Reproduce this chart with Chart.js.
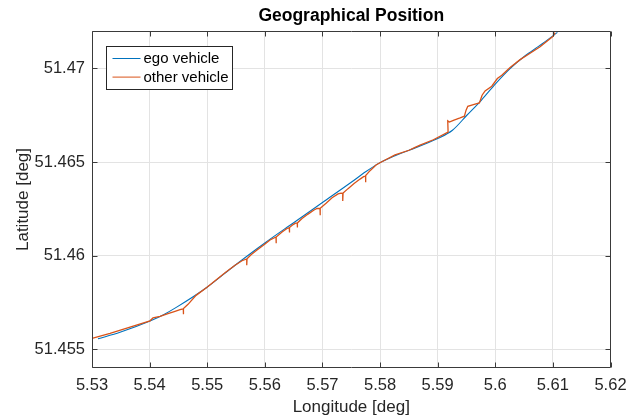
<!DOCTYPE html>
<html>
<head>
<meta charset="utf-8">
<script src="https://cdn.jsdelivr.net/npm/chart.js@4/dist/chart.umd.min.js"></script>
<style>
  html, body { margin: 0; padding: 0; background: #fff; }
  #geoChart { display: block; }
</style>
</head>
<body>
<canvas id="geoChart" width="638" height="420"></canvas>
<script>
// ego vehicle track
const egoLon = [5.53104, 5.53486, 5.54007, 5.54250, 5.54470, 5.54991, 5.55483, 5.56000, 5.56500, 5.57000,
  5.57500, 5.57750, 5.58000, 5.58250, 5.58503, 5.59000, 5.59257, 5.59507, 5.59757, 5.60007,
  5.60257, 5.60507, 5.60757, 5.61007, 5.61078];
const egoLat = [51.45556, 51.45591, 51.45651, 51.45686, 51.45725, 51.45830, 51.45949, 51.46068, 51.46176, 51.46284,
  51.46392, 51.46448, 51.46497, 51.46533, 51.46563, 51.46626, 51.46670, 51.46750, 51.46830, 51.46919,
  51.46999, 51.47065, 51.47119, 51.47175, 51.47193];

// other vehicle track, with the little glitches
const otherLon = [5.53017, 5.53313, 5.53660, 5.54007, 5.54059, 5.54181, 5.54319, 5.54441, 5.54528, 5.54585,
  5.54585, 5.54590, 5.54667, 5.54806, 5.54991, 5.55309, 5.55483, 5.55604, 5.55686, 5.55686,
  5.55691, 5.55760, 5.55859, 5.56003, 5.56090, 5.56194, 5.56194, 5.56200, 5.56299, 5.56385,
  5.56425, 5.56425, 5.56431, 5.56490, 5.56533, 5.56563, 5.56563, 5.56568, 5.56646, 5.56750,
  5.56854, 5.56906, 5.56958, 5.56958, 5.56964, 5.57063, 5.57167, 5.57271, 5.57323, 5.57352,
  5.57352, 5.57358, 5.57444, 5.57549, 5.57653, 5.57714, 5.57748, 5.57748, 5.57753, 5.57826,
  5.57931, 5.58014, 5.58260, 5.58503, 5.58608, 5.58694, 5.58925, 5.59181, 5.59175, 5.59203,
  5.59273, 5.59389, 5.59464, 5.59493, 5.59523, 5.59620, 5.59724, 5.59771, 5.59823, 5.59939,
  5.60036, 5.60113, 5.60257, 5.60431, 5.60604, 5.60778, 5.61003, 5.61038];
const otherLat = [51.45560, 51.45585, 51.45618, 51.45652, 51.45668, 51.45676, 51.45690, 51.45703, 51.45712, 51.45716,
  51.45687, 51.45718, 51.45740, 51.45788, 51.45830, 51.45909, 51.45949, 51.45973, 51.45983, 51.45949,
  51.45983, 51.46005, 51.46029, 51.46062, 51.46084, 51.46100, 51.46066, 51.46100, 51.46126, 51.46145,
  51.46150, 51.46124, 51.46150, 51.46166, 51.46174, 51.46175, 51.46150, 51.46175, 51.46198, 51.46222,
  51.46244, 51.46252, 51.46253, 51.46216, 51.46253, 51.46280, 51.46309, 51.46330, 51.46334, 51.46332,
  51.46292, 51.46334, 51.46358, 51.46385, 51.46409, 51.46422, 51.46425, 51.46392, 51.46428, 51.46454,
  51.46484, 51.46499, 51.46538, 51.46563, 51.46578, 51.46590, 51.46619, 51.46660, 51.46720, 51.46714,
  51.46723, 51.46736, 51.46745, 51.46777, 51.46798, 51.46807, 51.46816, 51.46857, 51.46880, 51.46905,
  51.46946, 51.46964, 51.47005, 51.47047, 51.47081, 51.47116, 51.47172, 51.47191];

const xTicks = [5.53, 5.54, 5.55, 5.56, 5.57, 5.58, 5.59, 5.6, 5.61, 5.62];
const yTicks = [51.455, 51.46, 51.465, 51.47];
const seriesNames = ["ego vehicle", "other vehicle"];

const FONT = "'Liberation Sans', Arial, Helvetica, sans-serif";
const AXIS_COLOR = "#262626";

function toPoints(xs, ys) {
  return xs.map((x, i) => ({ x: x, y: ys[i] }));
}

// box, inward ticks and the legend, matlab style
const axesBoxPlugin = {
  id: "axesBox",
  afterDatasetsDraw(chart) {
    const ctx = chart.ctx;
    const a = chart.chartArea;
    const xs = chart.scales.x, ys = chart.scales.y;
    const L = Math.round(a.left) + 0.5, R = Math.round(a.right) - 0.5;
    const T = Math.round(a.top) + 0.5, B = Math.round(a.bottom) - 0.5;
    const tl = 5;
    ctx.save();
    ctx.strokeStyle = "#3a3a3a";
    ctx.lineWidth = 1;
    ctx.beginPath();
    ctx.rect(L, T, R - L, B - T);
    xTicks.forEach((v) => {
      const p = Math.round(xs.getPixelForValue(v)) + 0.5;
      ctx.moveTo(p, B); ctx.lineTo(p, B - tl);
      ctx.moveTo(p, T); ctx.lineTo(p, T + tl);
    });
    yTicks.forEach((v) => {
      const p = Math.round(ys.getPixelForValue(v)) + 0.5;
      ctx.moveTo(L, p); ctx.lineTo(L + tl, p);
      ctx.moveTo(R, p); ctx.lineTo(R - tl, p);
    });
    ctx.stroke();

    // legend box, top left inside the axes
    const bx = Math.round(a.left) + 14.5, by = Math.round(a.top) + 15.5;
    const bw = 126, bh = 43;
    ctx.fillStyle = "#fff";
    ctx.fillRect(bx, by, bw, bh);
    ctx.strokeStyle = AXIS_COLOR;
    ctx.strokeRect(bx, by, bw, bh);
    ctx.font = "15px " + FONT;
    ctx.textBaseline = "middle";
    chart.data.datasets.forEach((ds, i) => {
      const ly = by + 12 + i * 18.6;
      ctx.strokeStyle = ds.borderColor;
      ctx.lineWidth = 1;
      ctx.beginPath();
      ctx.moveTo(bx + 6, ly);
      ctx.lineTo(bx + 34, ly);
      ctx.stroke();
      ctx.fillStyle = "#000";
      ctx.fillText(ds.label, bx + 37, ly + 0.5);
    });
    ctx.restore();
  }
};

const ctx = document.getElementById("geoChart").getContext("2d");
new Chart(ctx, {
  type: "scatter",
  data: {
    datasets: [
      {
        label: seriesNames[0],
        data: toPoints(egoLon, egoLat),
        showLine: true,
        borderColor: "#0072BD",
        backgroundColor: "#0072BD",
        borderWidth: 1.1,
        pointRadius: 0,
        cubicInterpolationMode: "monotone",
        order: 2,
      },
      {
        label: seriesNames[1],
        data: toPoints(otherLon, otherLat),
        showLine: true,
        borderColor: "#D95319",
        backgroundColor: "#D95319",
        borderWidth: 1.3,
        pointRadius: 0,
        tension: 0,
        order: 1,
      },
    ],
  },
  options: {
    responsive: false,
    animation: false,
    devicePixelRatio: 1,
    layout: { padding: { top: 0, right: 27.5, bottom: 0, left: 0 } },
    plugins: {
      legend: { display: false },
      tooltip: { enabled: false },
      title: {
        display: true,
        text: "Geographical Position",
        fullSize: false,
        color: "#000",
        font: { family: FONT, size: 17.5, weight: "bold", lineHeight: 1.2 },
        padding: { top: 6, bottom: 4 },
      },
    },
    scales: {
      x: {
        type: "linear",
        min: 5.53,
        max: 5.62,
        afterBuildTicks: (scale) => { scale.ticks = xTicks.map((v) => ({ value: v })); },
        afterFit: (scale) => { scale.height = 52; },
        ticks: {
          color: AXIS_COLOR,
          padding: 8,
          maxRotation: 0,
          font: { family: FONT, size: 16.5 },
          callback: (v) => String(v),
        },
        grid: { color: "#e3e3e3", drawTicks: false },
        border: { display: false },
        title: {
          display: true,
          text: "Longitude [deg]",
          color: AXIS_COLOR,
          font: { family: FONT, size: 17 },
          padding: { top: 0, bottom: 2 },
        },
      },
      y: {
        type: "linear",
        min: 51.454,
        max: 51.472,
        afterBuildTicks: (scale) => { scale.ticks = yTicks.map((v) => ({ value: v })); },
        afterFit: (scale) => { scale.width = 92; },
        ticks: {
          color: AXIS_COLOR,
          padding: 7,
          font: { family: FONT, size: 16.5 },
          callback: (v) => String(v),
        },
        grid: { color: "#e3e3e3", drawTicks: false },
        border: { display: false },
        title: {
          display: true,
          text: "Latitude [deg]",
          color: AXIS_COLOR,
          font: { family: FONT, size: 17 },
          padding: { top: 13, bottom: 0 },
        },
      },
    },
  },
  plugins: [axesBoxPlugin],
});
</script>
</body>
</html>
